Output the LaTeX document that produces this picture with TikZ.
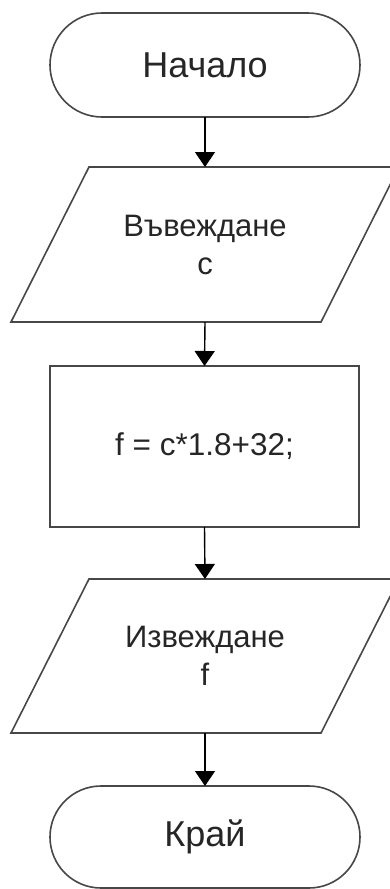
\documentclass[tikz,border=0pt]{standalone}
\usepackage{fontspec}
\setmainfont{Liberation Sans}
\usetikzlibrary{shapes.misc,arrows.meta}
\tikzset{
  boxline/.style={draw=black!72, line width=1.6pt},
  term/.style={boxline, rounded rectangle, rounded rectangle arc length=180, minimum width=310pt, minimum height=104pt, inner sep=0pt, outer sep=0pt, font=\fontsize{36}{40}\selectfont, text=black!85},
  iobox/.style={draw=none, minimum width=310pt, minimum height=155pt, inner sep=0pt, outer sep=0pt, align=center, font=\fontsize{31}{38}\selectfont, text=black!85},
  procbox/.style={boxline, minimum width=309pt, minimum height=161pt, inner sep=0pt, outer sep=0pt, font=\fontsize{31.5}{38}\selectfont, text=black!85},
  arr/.style={draw=black, line width=1.4pt, -{Triangle[width=20pt,length=15pt]}}
}
\begin{document}
\begin{tikzpicture}[x=1pt,y=-1pt]
\useasboundingbox (0,0) rectangle (390,889);
\clip (0,0) rectangle (390,889);
\fill[white] (0,0) rectangle (390,889);
\node[term] (start) at (205,65) {Начало};
\node[iobox] (in) at (205,244.5) {Въвеждане\\с};
\draw[boxline] ([xshift=-39pt]in.south west) -- ([xshift=39pt]in.north west) -- ([xshift=39pt]in.north east) -- ([xshift=-39pt]in.south east) -- cycle;
\node[procbox] (calc) at (204.5,446.5) {f = c*1.8+32;};
\node[iobox, minimum height=154pt] (out) at (205,656) {Извеждане\\f};
\draw[boxline] ([xshift=-39pt]out.south west) -- ([xshift=39pt]out.north west) -- ([xshift=39pt]out.north east) -- ([xshift=-39pt]out.south east) -- cycle;
\node[term, minimum height=102pt] (end) at (205,837) {Край};
\draw[arr] (start.south) -- (in.north);
\draw[arr] (in.south) -- (calc.north);
\draw[arr] (calc.south) -- (out.north);
\draw[arr] (out.south) -- (end.north);
\end{tikzpicture}
\end{document}
